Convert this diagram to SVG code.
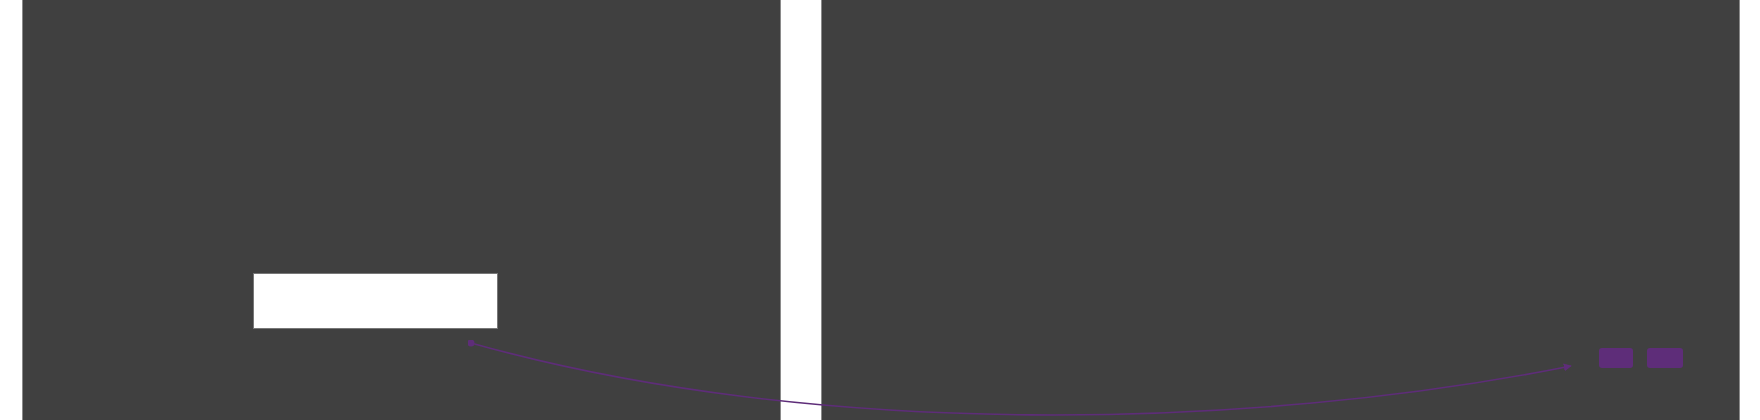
<svg xmlns="http://www.w3.org/2000/svg" width="1760" height="420" viewBox="0 0 1760 420">
<style>
.panel{fill:#404040;stroke:#8a8a8a;stroke-width:1}
.box{fill:#ffffff;stroke:#777777;stroke-width:1}
.chip{fill:#5e2d79}
.conn{fill:none;stroke:#5e2d79;stroke-width:1.6}
</style>
<defs>
<marker id="arrow" viewBox="0 0 10 10" refX="9" refY="5" markerWidth="8" markerHeight="8" markerUnits="userSpaceOnUse" orient="auto">
<path d="M0,0 L10,5 L0,10 z" fill="#5e2d79"/>
</marker>
<marker id="dot" viewBox="0 0 10 10" refX="5" refY="5" markerWidth="7" markerHeight="7" markerUnits="userSpaceOnUse">
<circle cx="5" cy="5" r="5" fill="#5e2d79"/>
</marker>
</defs>
<rect width="1760" height="420" fill="#ffffff"/>
<g id="panel-left"><rect class="panel" x="22.5" y="-2" width="758" height="430"/></g>
<g id="panel-right"><rect class="panel" x="821.5" y="-2" width="918" height="430"/></g>
<g id="node-box"><rect class="box" x="253.5" y="273.5" width="244" height="55"/></g>
<g id="node-chip-1"><rect class="chip" x="1599" y="348" width="34" height="20" rx="3"/></g>
<g id="node-chip-2"><rect class="chip" x="1647" y="348" width="36" height="20" rx="3"/></g>
<g id="connectors">
<path class="conn" d="M471,343 C816,440 1250,430 1571,366" marker-start="url(#dot)" marker-end="url(#arrow)"/>
</g>
</svg>
